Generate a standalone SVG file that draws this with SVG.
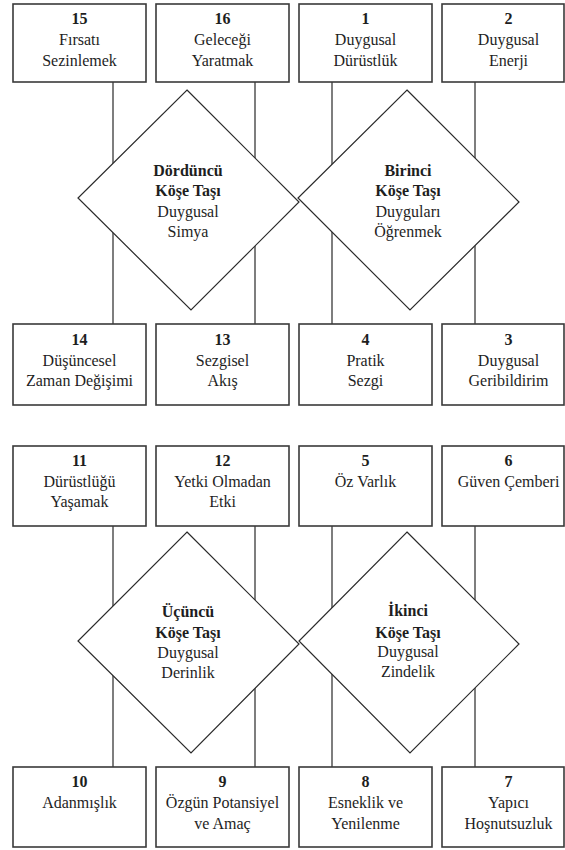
<svg xmlns="http://www.w3.org/2000/svg" width="565" height="850" viewBox="0 0 565 850">
<style>
text{font-family:'Liberation Serif','DejaVu Serif',serif;font-size:16px;fill:#1e1e1e;text-anchor:middle}
.b{font-weight:bold}
.box{fill:#fff;stroke:#3a3a3a;stroke-width:1.6}
.dia{fill:#fff;stroke:#2a2a2a;stroke-width:1.2}
.ln{stroke:#3a3a3a;stroke-width:1.3;fill:none}
</style>
<rect width="565" height="850" fill="#fff"/>
<g id="connectors">
<path class="ln" d="M113,82V324M255,82V324M332,82V324M475,82V324"/>
<path class="ln" d="M113,526V767M255,526V767M332,526V767M475,526V767"/>
</g>
<g font-family="Liberation Serif, serif">
<g id="d4"><polygon class="dia" points="187,90 299,202 191,310 78,198"/>
<text class="b" x="188" y="176">Dördüncü</text><text class="b" x="188" y="196">Köşe Taşı</text><text x="188" y="217">Duygusal</text><text x="188" y="237">Simya</text></g>
<g id="d1"><polygon class="dia" points="407,90 519,202 410,310 298,198"/>
<text class="b" x="408" y="176">Birinci</text><text class="b" x="408" y="196">Köşe Taşı</text><text x="408" y="217">Duyguları</text><text x="408" y="237">Öğrenmek</text></g>
<g id="d3"><polygon class="dia" points="187,532 299,644 191,753 78,641"/>
<text class="b" x="188" y="617">Üçüncü</text><text class="b" x="188" y="638">Köşe Taşı</text><text x="188" y="658">Duygusal</text><text x="188" y="678">Derinlik</text></g>
<g id="d2"><polygon class="dia" points="407,532 519,644 410,753 299,641"/>
<text class="b" x="408" y="616">İkinci</text><text class="b" x="408" y="638">Köşe Taşı</text><text x="408" y="657">Duygusal</text><text x="408" y="677">Zindelik</text></g>
<g id="n15"><rect class="box" x="13" y="4" width="133" height="78"/><text class="b" x="79.5" y="24">15</text><text x="79.5" y="45">Fırsatı</text><text x="79.5" y="66">Sezinlemek</text></g>
<g id="n16"><rect class="box" x="156" y="4" width="133" height="78"/><text class="b" x="222.5" y="24">16</text><text x="222.5" y="45">Geleceği</text><text x="222.5" y="66">Yaratmak</text></g>
<g id="n1"><rect class="box" x="299" y="4" width="133" height="78"/><text class="b" x="365.5" y="24">1</text><text x="365.5" y="45">Duygusal</text><text x="365.5" y="66">Dürüstlük</text></g>
<g id="n2"><rect class="box" x="442" y="4" width="122" height="78"/><text class="b" x="508.5" y="24">2</text><text x="508.5" y="45">Duygusal</text><text x="508.5" y="66">Enerji</text></g>
<g id="n14"><rect class="box" x="13" y="324" width="133" height="81"/><text class="b" x="79.5" y="345">14</text><text x="79.5" y="366">Düşüncesel</text><text x="79.5" y="386">Zaman Değişimi</text></g>
<g id="n13"><rect class="box" x="156" y="324" width="133" height="81"/><text class="b" x="222.5" y="345">13</text><text x="222.5" y="366">Sezgisel</text><text x="222.5" y="386">Akış</text></g>
<g id="n4"><rect class="box" x="299" y="324" width="133" height="81"/><text class="b" x="365.5" y="345">4</text><text x="365.5" y="366">Pratik</text><text x="365.5" y="386">Sezgi</text></g>
<g id="n3"><rect class="box" x="442" y="324" width="122" height="81"/><text class="b" x="508.5" y="345">3</text><text x="508.5" y="366">Duygusal</text><text x="508.5" y="386">Geribildirim</text></g>
<g id="n11"><rect class="box" x="13" y="446" width="133" height="80"/><text class="b" x="79.5" y="466">11</text><text x="79.5" y="487">Dürüstlüğü</text><text x="79.5" y="507">Yaşamak</text></g>
<g id="n12"><rect class="box" x="156" y="446" width="133" height="80"/><text class="b" x="222.5" y="466">12</text><text x="222.5" y="487">Yetki Olmadan</text><text x="222.5" y="507">Etki</text></g>
<g id="n5"><rect class="box" x="299" y="446" width="133" height="80"/><text class="b" x="365.5" y="466">5</text><text x="365.5" y="487">Öz Varlık</text></g>
<g id="n6"><rect class="box" x="442" y="446" width="122" height="80"/><text class="b" x="508.5" y="466">6</text><text x="508.5" y="487">Güven Çemberi</text></g>
<g id="n10"><rect class="box" x="13" y="767" width="133" height="80"/><text class="b" x="79.5" y="787">10</text><text x="79.5" y="808">Adanmışlık</text></g>
<g id="n9"><rect class="box" x="156" y="767" width="133" height="80"/><text class="b" x="222.5" y="787">9</text><text x="222.5" y="808">Özgün Potansiyel</text><text x="222.5" y="829">ve Amaç</text></g>
<g id="n8"><rect class="box" x="299" y="767" width="133" height="80"/><text class="b" x="365.5" y="787">8</text><text x="365.5" y="808">Esneklik ve</text><text x="365.5" y="829">Yenilenme</text></g>
<g id="n7"><rect class="box" x="442" y="767" width="122" height="80"/><text class="b" x="508.5" y="787">7</text><text x="508.5" y="808">Yapıcı</text><text x="508.5" y="829">Hoşnutsuzluk</text></g>
</g>
</svg>
